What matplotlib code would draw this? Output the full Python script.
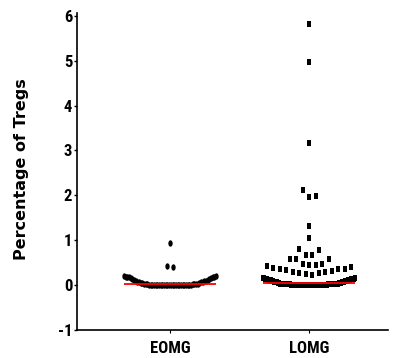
import numpy as np
import matplotlib
matplotlib.use("Agg")
import matplotlib.pyplot as plt
from matplotlib import font_manager as fm

plt.rcParams['axes.unicode_minus'] = False

# ---------------- data ----------------
categories = ["EOMG", "LOMG"]

eomg_values = (
    [0.00] * 20
    + [0.01] * 6
    + [0.02] * 5
    + [0.03, 0.03, 0.04, 0.05, 0.05, 0.06, 0.07, 0.07, 0.08, 0.09,
       0.10, 0.10, 0.11, 0.12, 0.13, 0.14, 0.15, 0.16, 0.17, 0.17,
       0.18, 0.19, 0.19, 0.20, 0.21]
    + [0.40, 0.42, 0.94]
)

lomg_values = (
    [0.00] * 30
    + [0.01] * 14
    + [0.02] * 16
    + [0.03] * 10
    + [0.04, 0.04, 0.05, 0.05, 0.05, 0.06, 0.06, 0.06, 0.07, 0.07,
       0.07, 0.08, 0.08, 0.08, 0.09, 0.09, 0.09, 0.10, 0.10, 0.10,
       0.10, 0.11, 0.11, 0.11, 0.12, 0.12, 0.12, 0.12, 0.13, 0.13,
       0.13, 0.13, 0.13, 0.14, 0.14, 0.14, 0.14, 0.15, 0.15, 0.15]
    + [0.22, 0.24, 0.26, 0.27, 0.30, 0.30, 0.31, 0.33, 0.35, 0.35,
       0.37, 0.39, 0.41, 0.42]
    + [0.45, 0.45, 0.47, 0.47, 0.59, 0.59, 0.59]
    + [0.67, 0.68, 0.79, 0.80]
    + [1.05, 1.31, 1.97, 1.99, 2.13, 3.16, 4.98, 5.82]
)

y_ticks = [-1, 0, 1, 2, 3, 4, 5, 6]

# ---------------- fonts ----------------
def find_narrow_bold(size):
    best = None
    for f in fm.fontManager.ttflist:
        narrow = ('Narrow' in f.name or 'Condensed' in f.name
                  or f.stretch in ('condensed', 'semi-condensed',
                                   'extra-condensed', 'ultra-condensed'))
        if not narrow:
            continue
        w = f.weight if isinstance(f.weight, int) else (700 if 'bold' in str(f.weight).lower() else 400)
        score = abs(w - 700)
        if 'Liberation' in f.name or 'Roboto' in f.name:
            score -= 50
        if best is None or score < best[0]:
            best = (score, f.fname)
    if best is not None:
        return fm.FontProperties(fname=best[1], size=size)
    return fm.FontProperties(family=['Liberation Sans', 'DejaVu Sans'],
                             weight='bold', size=size - 2)

tick_fp = find_narrow_bold(12)

# ---------------- figure ----------------
W, H = 393, 358
fig = plt.figure(figsize=(W / 100, H / 100), dpi=100)
ax = fig.add_axes([77 / W, 28 / H, 311 / W, 317.3 / H])
ax.set_xlim(0.331, 2.568)
ax.set_ylim(-1, 6.07)

px_per_x = 311 / (2.568 - 0.331)


def column_scatter(values, center, row_h=0.21, slot_px=6.5, half_px=46):
    """GraphPad-like column scatter: rows of similar values, spread center-out."""
    vals = np.sort(np.asarray(values, dtype=float))
    slot = slot_px / px_per_x
    half = half_px / px_per_x
    xs, ys = [], []
    i = 0
    while i < len(vals):
        j = i
        while j < len(vals) and vals[j] - vals[i] <= row_h + 1e-9:
            j += 1
        row = vals[i:j]
        k = len(row)
        step = slot if k < 2 else min(slot, 2 * half / (k - 1))
        slots = (np.arange(k) - (k - 1) / 2) * step
        order = np.argsort(np.abs(slots) - 1e-9 * slots, kind="stable")
        for v, s in zip(row, slots[order]):
            xs.append(center + s)
            ys.append(v)
        i = j
    return np.array(xs), np.array(ys)


t = np.linspace(0, 2 * np.pi, 40)
ellipse = list(zip(0.34 * np.cos(t), 0.5 * np.sin(t)))
rect = [(-0.35, -0.5), (0.35, -0.5), (0.35, 0.5), (-0.35, 0.5), (-0.35, -0.5)]

x1, y1 = column_scatter(eomg_values, 1)
ax.plot(x1, y1, linestyle="none", marker=ellipse, markersize=4.6,
        color="black", markeredgewidth=0, zorder=3, clip_on=False)
x2, y2 = column_scatter(lomg_values, 2)
ax.plot(x2, y2, linestyle="none", marker=rect, markersize=4.8,
        color="black", markeredgewidth=0, zorder=3, clip_on=False)

half_line = 46 / px_per_x
for c, vals in zip([1, 2], [eomg_values, lomg_values]):
    m = np.median(vals)
    ax.plot([c - half_line, c + half_line], [m, m], color="red",
            linewidth=1.3, solid_capstyle="butt", zorder=4)

# ---------------- axes styling ----------------
for side in ["top", "right"]:
    ax.spines[side].set_visible(False)
for side in ["left", "bottom"]:
    ax.spines[side].set_linewidth(1.2)
    ax.spines[side].set_color("black")

ax.set_yticks(y_ticks)
ax.set_yticklabels([str(v) for v in y_ticks], fontproperties=tick_fp)
ax.set_xticks([1, 2])
ax.set_xticklabels(categories, fontproperties=tick_fp)
ax.tick_params(axis="y", direction="out", length=2.2, width=1, pad=1.3)
ax.tick_params(axis="x", direction="out", length=2.5, width=0.8, pad=5.5)

ax.set_ylabel("Percentage of Tregs", family="DejaVu Sans",
              fontweight="bold", fontsize=11.5, va="center")
ax.yaxis.set_label_coords((22 - 77) / 311, 0.506)

fig.savefig("out.png", dpi=100)
